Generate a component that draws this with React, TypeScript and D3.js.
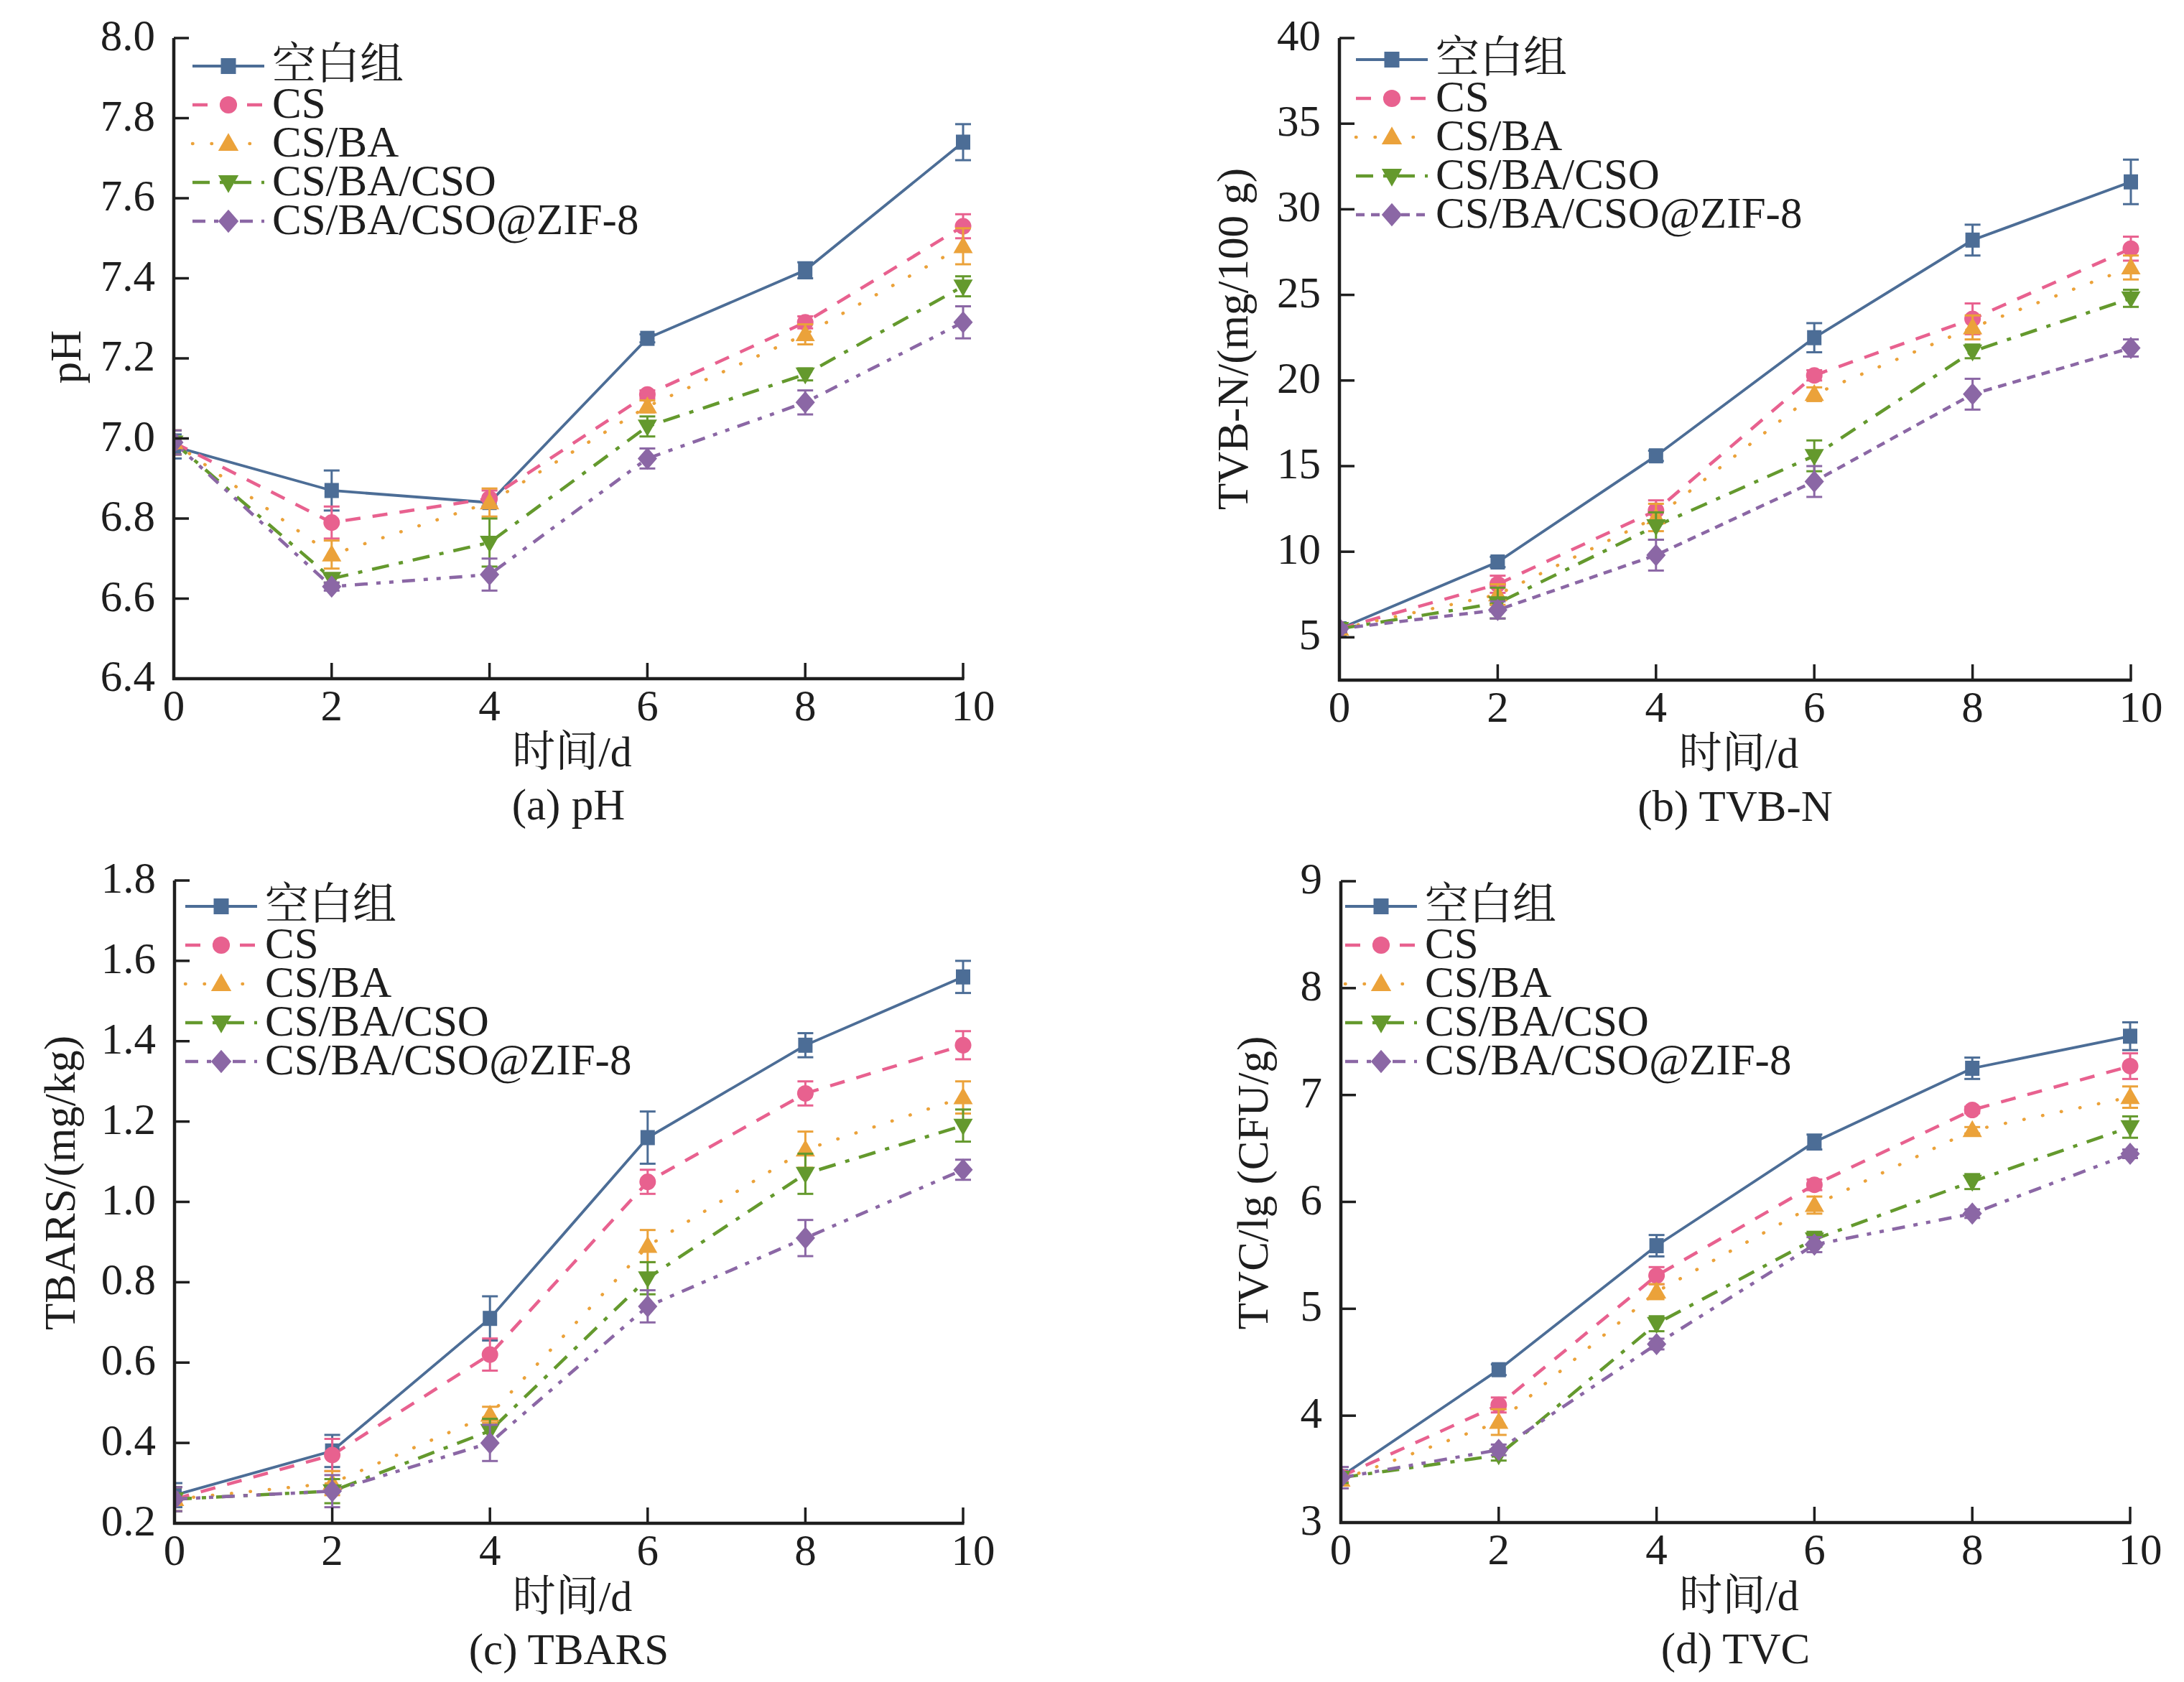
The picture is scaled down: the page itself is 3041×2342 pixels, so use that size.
import React from "react";
import * as d3 from "d3";

const W = 3041;
const H = 2342;

const days = [0, 2, 4, 6, 8, 10];
const xTicks = [0, 2, 4, 6, 8, 10];
const seriesNames = ["空白组", "CS", "CS/BA", "CS/BA/CSO", "CS/BA/CSO@ZIF-8"];
const colors = ["#4c6d96", "#e8618f", "#eba23a", "#64992d", "#8b67a5"];

// (a) pH
const phBlank = [6.98, 6.87, 6.84, 7.25, 7.42, 7.74];
const phCS = [6.99, 6.79, 6.85, 7.11, 7.29, 7.53];
const phBA = [6.99, 6.71, 6.84, 7.08, 7.26, 7.48];
const phCSO = [6.99, 6.65, 6.74, 7.03, 7.16, 7.38];
const phZIF = [6.99, 6.63, 6.66, 6.95, 7.09, 7.29];
const phBlankErr = [0.03, 0.05, 0.01, 0.01, 0.02, 0.045];
const phCSErr = [0.03, 0.04, 0.02, 0.01, 0.015, 0.03];
const phBAErr = [0.03, 0.035, 0.035, 0.015, 0.025, 0.045];
const phCSOErr = [0.03, 0.01, 0.06, 0.025, 0.015, 0.025];
const phZIFErr = [0.03, 0.01, 0.04, 0.025, 0.03, 0.04];
const phTicks = [6.4, 6.6, 6.8, 7.0, 7.2, 7.4, 7.6, 7.8, 8.0];

// (b) TVB-N
const tvbBlank = [5.5, 9.4, 15.6, 22.5, 28.2, 31.6];
const tvbCS = [5.5, 8.1, 12.4, 20.3, 23.6, 27.7];
const tvbBA = [5.5, 7.5, 12.0, 19.2, 23.1, 26.6];
const tvbCSO = [5.5, 7.0, 11.5, 15.6, 21.7, 24.8];
const tvbZIF = [5.5, 6.6, 9.8, 14.1, 19.2, 21.9];
const tvbBlankErr = [0.2, 0.3, 0.3, 0.85, 0.9, 1.3];
const tvbCSErr = [0.2, 0.5, 0.6, 0.3, 0.9, 0.7];
const tvbBAErr = [0.2, 0.6, 0.8, 0.4, 0.7, 0.7];
const tvbCSOErr = [0.2, 0.9, 0.8, 0.9, 0.4, 0.5];
const tvbZIFErr = [0.2, 0.5, 0.9, 0.9, 0.9, 0.5];
const tvbTicks = [5, 10, 15, 20, 25, 30, 35, 40];

// (c) TBARS
const tbBlank = [0.27, 0.38, 0.71, 1.16, 1.39, 1.56];
const tbCS = [0.26, 0.37, 0.62, 1.05, 1.27, 1.39];
const tbBA = [0.26, 0.3, 0.47, 0.89, 1.13, 1.26];
const tbCSO = [0.26, 0.28, 0.43, 0.81, 1.07, 1.19];
const tbZIF = [0.26, 0.28, 0.4, 0.74, 0.91, 1.08];
const tbBlankErr = [0.03, 0.04, 0.055, 0.065, 0.03, 0.04];
const tbCSErr = [0.03, 0.04, 0.04, 0.03, 0.03, 0.035];
const tbBAErr = [0.03, 0.03, 0.02, 0.04, 0.045, 0.04];
const tbCSOErr = [0.03, 0.03, 0.03, 0.04, 0.05, 0.04];
const tbZIFErr = [0.03, 0.04, 0.045, 0.04, 0.045, 0.025];
const tbTicks = [0.2, 0.4, 0.6, 0.8, 1.0, 1.2, 1.4, 1.6, 1.8];

// (d) TVC
const tvcBlank = [3.43, 4.43, 5.59, 6.56, 7.25, 7.55];
const tvcCS = [3.43, 4.1, 5.31, 6.16, 6.86, 7.27];
const tvcBA = [3.4, 3.94, 5.16, 5.97, 6.67, 6.98];
const tvcCSO = [3.42, 3.63, 4.86, 5.65, 6.19, 6.7];
const tvcZIF = [3.42, 3.68, 4.67, 5.6, 5.89, 6.45];
const tvcBlankErr = [0.05, 0.05, 0.1, 0.07, 0.1, 0.13];
const tvcCSErr = [0.05, 0.07, 0.08, 0.05, 0.03, 0.12];
const tvcBAErr = [0.05, 0.12, 0.07, 0.08, 0.03, 0.1];
const tvcCSOErr = [0.05, 0.05, 0.07, 0.07, 0.07, 0.1];
const tvcZIFErr = [0.1, 0.05, 0.05, 0.07, 0.04, 0.04];
const tvcTicks = [3, 4, 5, 6, 7, 8, 9];

const FONT =
  "'Liberation Serif','Times New Roman','Noto Serif CJK SC','Noto Sans CJK SC',serif";
const INK = "#1e1e1e";

const dashA = [null, "21,17", "0.5,26", "24,14,6,14", "18,12,6,12,6,12"];
const dashB = [null, "21,17", "0.5,26", "24,14,6,14", "12,9"];

type PanelCfg = {
  id: string;
  x0: number;
  x1: number;
  yTop: number;
  yBot: number;
  domain: [number, number];
  ticks: number[];
  fmt: (v: number) => string;
  values: number[][];
  errs: number[][];
  dashes: (string | null)[];
  legendX: number;
  legendY: number;
  yTitle: string;
  yTitleX: number;
  yTitleY: number;
  caption: string;
};

const panels: PanelCfg[] = [
  {
    id: "a",
    x0: 242, x1: 1341, yTop: 53, yBot: 945,
    domain: [6.4, 8.0], ticks: phTicks, fmt: d3.format(".1f"),
    values: [phBlank, phCS, phBA, phCSO, phZIF],
    errs: [phBlankErr, phCSErr, phBAErr, phCSOErr, phZIFErr],
    dashes: dashA,
    legendX: 268, legendY: 92,
    yTitle: "pH", yTitleX: 112, yTitleY: 497,
    caption: "(a) pH",
  },
  {
    id: "b",
    x0: 1865, x1: 2967, yTop: 53, yBot: 947,
    domain: [2.5, 40], ticks: tvbTicks, fmt: d3.format("d"),
    values: [tvbBlank, tvbCS, tvbBA, tvbCSO, tvbZIF],
    errs: [tvbBlankErr, tvbCSErr, tvbBAErr, tvbCSOErr, tvbZIFErr],
    dashes: dashB,
    legendX: 1888, legendY: 83,
    yTitle: "TVB-N/(mg/100 g)", yTitleX: 1737, yTitleY: 472,
    caption: "(b) TVB-N",
  },
  {
    id: "c",
    x0: 243, x1: 1341, yTop: 1226, yBot: 2121,
    domain: [0.2, 1.8], ticks: tbTicks, fmt: d3.format(".1f"),
    values: [tbBlank, tbCS, tbBA, tbCSO, tbZIF],
    errs: [tbBlankErr, tbCSErr, tbBAErr, tbCSOErr, tbZIFErr],
    dashes: dashA,
    legendX: 258, legendY: 1262,
    yTitle: "TBARS/(mg/kg)", yTitleX: 104, yTitleY: 1647,
    caption: "(c) TBARS",
  },
  {
    id: "d",
    x0: 1867, x1: 2966, yTop: 1227, yBot: 2120,
    domain: [3, 9], ticks: tvcTicks, fmt: d3.format("d"),
    values: [tvcBlank, tvcCS, tvcBA, tvcCSO, tvcZIF],
    errs: [tvcBlankErr, tvcCSErr, tvcBAErr, tvcCSOErr, tvcZIFErr],
    dashes: dashA,
    legendX: 1873, legendY: 1262,
    yTitle: "TVC/lg (CFU/g)", yTitleX: 1765, yTitleY: 1647,
    caption: "(d) TVC",
  },
];

function Marker({ kind, cx, cy, color, s = 1 }: { kind: number; cx: number; cy: number; color: string; s?: number }) {
  const t = `translate(${cx},${cy}) scale(${s})`;
  if (kind === 0) return <rect x={-10} y={-10.5} width={20} height={21} fill={color} transform={t} />;
  if (kind === 1) return <circle r={11.5} fill={color} transform={t} />;
  if (kind === 2) return <path d="M0,-14L13.5,9.5L-13.5,9.5Z" fill={color} transform={t} />;
  if (kind === 3) return <path d="M0,14L13.5,-9.5L-13.5,-9.5Z" fill={color} transform={t} />;
  return <path d="M0,-15.5L13.5,0L0,15.5L-13.5,0Z" fill={color} transform={t} />;
}

function Panel({ p }: { p: PanelCfg }) {
  const x = d3.scaleLinear().domain([0, 10]).range([p.x0, p.x1]);
  const y = d3.scaleLinear().domain(p.domain).range([p.yBot, p.yTop]);
  const line = d3
    .line<number>()
    .x((_, i) => x(days[i]))
    .y((d) => y(d));
  const clipId = `clip-${p.id}`;
  const cx = (p.x0 + p.x1) / 2 + 5;
  return (
    <g>
      <defs>
        <clipPath id={clipId}>
          <rect x={p.x0} y={p.yTop - 80} width={p.x1 - p.x0 + 80} height={p.yBot - p.yTop + 80} />
        </clipPath>
      </defs>
      {/* data */}
      <g clipPath={`url(#${clipId})`}>
        {p.values.map((vals, si) => (
          <path
            key={"l" + si}
            d={line(vals) || ""}
            fill="none"
            stroke={colors[si]}
            strokeWidth={si === 0 ? 3.8 : 4.5}
            strokeDasharray={p.dashes[si] || undefined}
            strokeLinecap={si === 2 ? "round" : "butt"}
          />
        ))}
        {p.values.map((vals, si) => (
          <g key={"m" + si}>
            {vals.map((v, i) => {
              const e = p.errs[si][i];
              const px = x(days[i]);
              const y1 = y(v + e);
              const y2 = y(v - e);
              return (
                <g key={i}>
                  <line x1={px} x2={px} y1={y1} y2={y2} stroke={colors[si]} strokeWidth={3} />
                  <line x1={px - 11} x2={px + 11} y1={y1} y2={y1} stroke={colors[si]} strokeWidth={3} />
                  <line x1={px - 11} x2={px + 11} y1={y2} y2={y2} stroke={colors[si]} strokeWidth={3} />
                  <Marker kind={si} cx={px} cy={y(v)} color={colors[si]} />
                </g>
              );
            })}
          </g>
        ))}
      </g>
      {/* axes */}
      <line x1={p.x0} x2={p.x0} y1={p.yTop} y2={p.yBot + 2} stroke={INK} strokeWidth={4.5} />
      <line x1={p.x0 - 2} x2={p.x1 + 1.5} y1={p.yBot} y2={p.yBot} stroke={INK} strokeWidth={4.5} />
      {p.ticks.map((t) => (
        <g key={"yt" + t}>
          {y(t) < p.yBot - 2 && (
            <line x1={p.x0} x2={p.x0 + 21} y1={y(t)} y2={y(t)} stroke={INK} strokeWidth={3.5} />
          )}
          <text
            x={p.x0 - 26}
            y={y(t) + 17}
            textAnchor="end"
            fontFamily={FONT}
            fontSize={61}
            fill={INK}
          >
            {p.fmt(t)}
          </text>
        </g>
      ))}
      {xTicks.map((t) => (
        <g key={"xt" + t}>
          {t > 0 && (
            <line x1={x(t)} x2={x(t)} y1={p.yBot} y2={p.yBot - 22} stroke={INK} strokeWidth={3.5} />
          )}
          <text
            x={x(t) + (t === 10 ? 14 : 0)}
            y={p.yBot + 58}
            textAnchor="middle"
            fontFamily={FONT}
            fontSize={61}
            fill={INK}
          >
            {t}
          </text>
        </g>
      ))}
      {/* titles */}
      <text
        transform={`translate(${p.yTitleX},${p.yTitleY}) rotate(-90)`}
        textAnchor="middle"
        fontFamily={FONT}
        fontSize={61}
        fill={INK}
      >
        {p.yTitle}
      </text>
      <text x={cx} y={p.yBot + 122} textAnchor="middle" fontFamily={FONT} fontSize={60} fill={INK}>
        时间/d
      </text>
      <text x={cx - 5} y={p.yBot + 196} textAnchor="middle" fontFamily={FONT} fontSize={61} fill={INK}>
        {p.caption}
      </text>
      {/* legend */}
      {seriesNames.map((name, si) => {
        const ly = p.legendY + si * 54;
        return (
          <g key={"lg" + si}>
            <line
              x1={p.legendX}
              x2={p.legendX + 100}
              y1={ly}
              y2={ly}
              stroke={colors[si]}
              strokeWidth={si === 0 ? 3.8 : 4.5}
              strokeDasharray={p.dashes[si] || undefined}
              strokeLinecap={si === 2 ? "round" : "butt"}
            />
            <Marker kind={si} cx={p.legendX + 50} cy={ly} color={colors[si]} s={1.05} />
            <text
              x={p.legendX + 111}
              y={ly + 18}
              fontFamily={FONT}
              fontSize={61}
              fill={INK}
            >
              {name}
            </text>
          </g>
        );
      })}
    </g>
  );
}

export default function App() {
  return (
    <svg
      width={W}
      height={H}
      viewBox={`0 0 ${W} ${H}`}
      style={{ position: "absolute", left: 0, top: 0, background: "#fff" }}
    >
      <rect x={0} y={0} width={W} height={H} fill="#fff" />
      {panels.map((p) => (
        <Panel key={p.id} p={p} />
      ))}
    </svg>
  );
}
